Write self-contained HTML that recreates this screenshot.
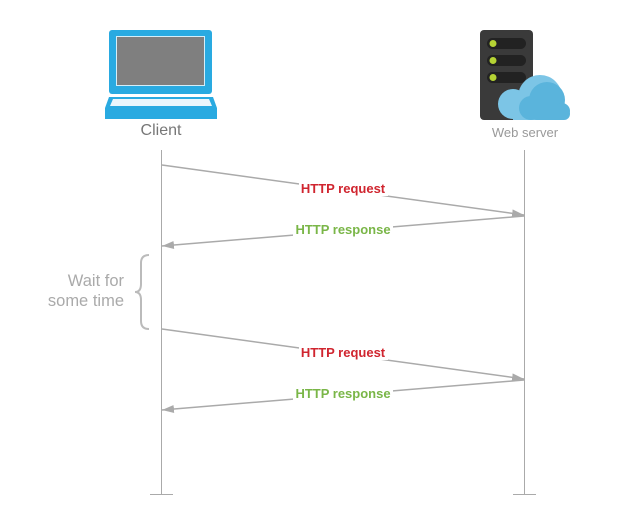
<!DOCTYPE html>
<html><head><style>
html,body{margin:0;padding:0;background:#fff;}
svg{display:block;}
</style></head><body>
<svg width="623" height="525" viewBox="0 0 623 525" xmlns="http://www.w3.org/2000/svg" font-family="Liberation Sans, sans-serif">
<defs>
<marker id="ar" markerWidth="12" markerHeight="8" refX="12" refY="4" orient="auto" markerUnits="userSpaceOnUse">
<path d="M0,0 L12,4 L0,8 z" fill="#aaa"/>
</marker>
</defs>
<rect x="109" y="30" width="103" height="64" rx="3" fill="#29aae1"/>
<rect x="116" y="36" width="89" height="50" fill="#fff" opacity="0.8"/>
<rect x="117" y="37" width="87" height="48" fill="#7f7f7f"/>
<path d="M109,97 L213,97 L217,108 L217,119 L105,119 L105,108 Z" fill="#29aae1"/>
<path d="M113,99 L209,99 L212,106 L110,106 Z" fill="#eaf6fc"/>
<text x="161" y="135" text-anchor="middle" font-size="16" fill="#777">Client</text>
<rect x="480" y="30" width="53" height="90" rx="4" fill="#3a3a3a"/>
<rect x="487" y="38" width="39" height="11" rx="5.5" fill="#222"/>
<rect x="487" y="55" width="39" height="11" rx="5.5" fill="#222"/>
<rect x="487" y="72" width="39" height="11" rx="5.5" fill="#222"/>
<circle cx="493" cy="43.5" r="3.5" fill="#b5d334"/>
<circle cx="493" cy="60.5" r="3.5" fill="#b5d334"/>
<circle cx="493" cy="77.5" r="3.5" fill="#b5d334"/>
<circle cx="513" cy="104" r="15" fill="#7cc5e6"/>
<circle cx="540" cy="97" r="22" fill="#7cc5e6"/>
<rect x="513" y="100" width="50" height="20" fill="#7cc5e6"/>
<circle cx="531" cy="108" r="12" fill="#5ab4dc"/>
<circle cx="547" cy="100" r="18" fill="#5ab4dc"/>
<circle cx="562" cy="111" r="8" fill="#5ab4dc"/>
<rect x="531" y="108" width="39" height="12" rx="6" fill="#5ab4dc"/>
<text x="525" y="137" text-anchor="middle" font-size="13" fill="#999">Web server</text>
<line x1="161.5" y1="150" x2="161.5" y2="494" stroke="#aaa" stroke-width="1"/>
<line x1="524.5" y1="150" x2="524.5" y2="494" stroke="#aaa" stroke-width="1"/>
<line x1="150" y1="494.5" x2="173" y2="494.5" stroke="#aaa"/>
<line x1="513" y1="494.5" x2="536" y2="494.5" stroke="#aaa"/>
<g stroke="#aaa" stroke-width="1.5" fill="none">
<line x1="162" y1="165" x2="524" y2="215" marker-end="url(#ar)"/>
<line x1="524" y1="216" x2="162" y2="246" marker-end="url(#ar)"/>
<line x1="162" y1="329" x2="524" y2="379" marker-end="url(#ar)"/>
<line x1="524" y1="380" x2="162" y2="410" marker-end="url(#ar)"/>
</g>
<g font-size="13" font-weight="bold" text-anchor="middle">
<rect x="299" y="180" width="89" height="16" fill="#fff"/>
<text x="343" y="193" fill="#d0252f">HTTP request</text>
<rect x="293" y="221" width="100" height="16" fill="#fff"/>
<text x="343" y="234" fill="#7ab648">HTTP response</text>
<rect x="299" y="344" width="89" height="16" fill="#fff"/>
<text x="343" y="357" fill="#d0252f">HTTP request</text>
<rect x="293" y="385" width="100" height="16" fill="#fff"/>
<text x="343" y="398" fill="#7ab648">HTTP response</text>
</g>
<path d="M149,255 Q141,255 141,263 L141,284 Q141,292 135,292 Q141,292 141,300 L141,321 Q141,329 149,329" stroke="#bbb" stroke-width="2" fill="none"/>
<text x="124" y="286" text-anchor="end" font-size="16.5" fill="#aaa">Wait for</text>
<text x="124" y="306" text-anchor="end" font-size="16.5" fill="#aaa">some time</text>
</svg>
</body></html>
